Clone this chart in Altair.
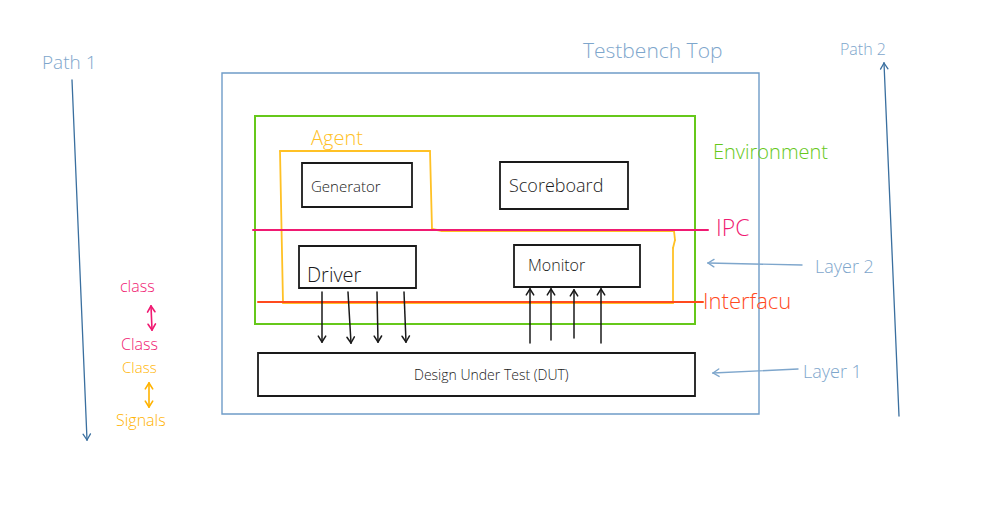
import math
import altair as alt
import pandas as pd

# ---------------- data (image pixel coordinates) ----------------
# boxes
box_names = ["Testbench Top", "Environment", "Generator", "Scoreboard", "Driver", "Monitor", "DUT"]
box_x1 = [222, 255, 302, 500, 299, 514, 258]
box_y1 = [73, 116, 163, 162, 246, 245, 353]
box_x2 = [759, 695, 412, 628, 416, 640, 695]
box_y2 = [414, 324, 207, 209, 288, 287, 396]
box_colors = ["#6f9cc8", "#66c81a", "#1a1a1a", "#1a1a1a", "#1a1a1a", "#1a1a1a", "#1a1a1a"]
box_widths = [1.4, 2.0, 1.8, 1.8, 1.8, 1.8, 1.8]

# agent outline (open polygon, amber)
agent_px = [280, 430, 432, 442, 674, 675, 673, 673, 283, 280]
agent_py = [151, 151, 229, 231, 231, 240, 248, 303, 303, 151]
agent_color = "#ffc125"

# straight lines: IPC and Interface
line_names = ["IPC", "Interface"]
line_x1 = [253, 258]
line_y1 = [230, 302]
line_x2 = [708, 703]
line_y2 = [230, 302]
line_colors = ["#f01a72", "#ff4a1e"]

# arrows (start -> end, head at end; double heads where flagged)
arrow_x1 = [72, 899, 802, 798, 322, 348, 377, 404, 530, 551, 574, 601, 151, 149]
arrow_y1 = [80, 416, 265, 369, 292, 292, 292, 292, 343, 340, 338, 343, 306, 383]
arrow_x2 = [87, 884, 708, 713, 322, 351, 378, 406, 530, 551, 574, 601, 152, 149]
arrow_y2 = [440, 63, 263, 373, 342, 343, 342, 342, 289, 289, 290, 289, 330, 407]
arrow_double = [False, False, False, False, False, False, False, False,
                False, False, False, False, True, True]
arrow_colors = ["#3a6f9f", "#3a6f9f", "#7ea6cc", "#7ea6cc"] + ["#1a1a1a"] * 8 + ["#f01a72", "#ffb300"]
arrow_widths = [1.3, 1.3, 1.4, 1.4] + [1.5] * 8 + [1.6, 1.6]

# text labels (left edge x, centre y)
label_text = ["Testbench Top", "Path 1", "Path 2", "Agent", "Environment", "IPC", "Interfacu",
              "Layer 2", "Layer 1", "Generator", "Scoreboard", "Driver", "Monitor",
              "Design Under Test (DUT)", "class", "Class", "Class", "Signals"]
label_x = [583, 42, 840, 311, 713, 716, 703, 815, 803, 311, 509, 307, 528,
           414, 120, 121, 122, 116]
label_y = [52, 63, 50, 139, 153, 229, 302, 268, 373, 187, 187, 276, 266,
           376, 287, 345, 368, 421]
label_size = [21, 19, 16, 20, 20, 23, 22, 18, 18, 15, 18, 20, 16,
               14, 16, 16, 15, 16]
label_colors = ["#7ea6cc", "#7ea6cc", "#7ea6cc", "#ffc125", "#66c81a", "#f01a72", "#ff4a1e",
                "#7ea6cc", "#7ea6cc", "#1a1a1a", "#1a1a1a", "#1a1a1a", "#1a1a1a",
                "#1a1a1a", "#f01a72", "#f01a72", "#ffb300", "#ffb300"]

# ---------------- build tables ----------------
boxes = pd.DataFrame({"name": box_names, "x1": box_x1, "y1": box_y1, "x2": box_x2,
                      "y2": box_y2, "color": box_colors, "w": box_widths})

seg_rows = []
for i in range(len(agent_px) - 1):
    seg_rows.append(dict(x1=agent_px[i], y1=agent_py[i], x2=agent_px[i + 1], y2=agent_py[i + 1],
                         color=agent_color, w=1.8))
for i in range(len(line_names)):
    seg_rows.append(dict(x1=line_x1[i], y1=line_y1[i], x2=line_x2[i], y2=line_y2[i],
                         color=line_colors[i], w=2.0))


def head(xs, ys, xe, ye, color, w, L=7.0, ang=32):
    dx, dy = xs - xe, ys - ye
    n = math.hypot(dx, dy)
    ux, uy = dx / n, dy / n
    out = []
    for s in (1, -1):
        a = math.radians(ang * s)
        hx = ux * math.cos(a) - uy * math.sin(a)
        hy = ux * math.sin(a) + uy * math.cos(a)
        out.append(dict(x1=xe, y1=ye, x2=xe + hx * L, y2=ye + hy * L, color=color, w=w))
    return out


for i in range(len(arrow_x1)):
    c, w = arrow_colors[i], arrow_widths[i]
    seg_rows.append(dict(x1=arrow_x1[i], y1=arrow_y1[i], x2=arrow_x2[i], y2=arrow_y2[i], color=c, w=w))
    seg_rows += head(arrow_x1[i], arrow_y1[i], arrow_x2[i], arrow_y2[i], c, w)
    if arrow_double[i]:
        seg_rows += head(arrow_x2[i], arrow_y2[i], arrow_x1[i], arrow_y1[i], c, w)

segs = pd.DataFrame(seg_rows)
labels = pd.DataFrame({"text": label_text, "x": label_x, "y": label_y,
                       "size": label_size, "color": label_colors})

# ---------------- chart ----------------
W, H = 976, 490
xs = alt.Scale(domain=[8, 8 + W], nice=False, zero=False)
ys = alt.Scale(domain=[8, 8 + H], nice=False, zero=False, reverse=True)

rects = alt.Chart(boxes).mark_rect(filled=False).encode(
    x=alt.X("x1:Q", scale=xs, axis=None),
    x2="x2:Q",
    y=alt.Y("y1:Q", scale=ys, axis=None),
    y2="y2:Q",
    stroke=alt.Stroke("color:N", scale=None),
    strokeWidth=alt.StrokeWidth("w:Q", scale=None),
)

rules = alt.Chart(segs).mark_rule(strokeCap="round").encode(
    x=alt.X("x1:Q", scale=xs, axis=None),
    x2="x2:Q",
    y=alt.Y("y1:Q", scale=ys, axis=None),
    y2="y2:Q",
    color=alt.Color("color:N", scale=None),
    strokeWidth=alt.StrokeWidth("w:Q", scale=None),
)

texts = alt.Chart(labels).mark_text(align="left", baseline="middle", font="Open Sans",
                                    fontWeight=300).encode(
    x=alt.X("x:Q", scale=xs, axis=None),
    y=alt.Y("y:Q", scale=ys, axis=None),
    text="text:N",
    color=alt.Color("color:N", scale=None),
    size=alt.Size("size:Q", scale=None),
)

chart = alt.layer(rects, rules, texts).properties(
    width=W, height=H, padding=0, autosize=alt.AutoSizeParams(type="none"),
    background="white",
).configure_view(stroke=None)

chart.save("out.html", embed_options={"renderer": "svg", "actions": False})
